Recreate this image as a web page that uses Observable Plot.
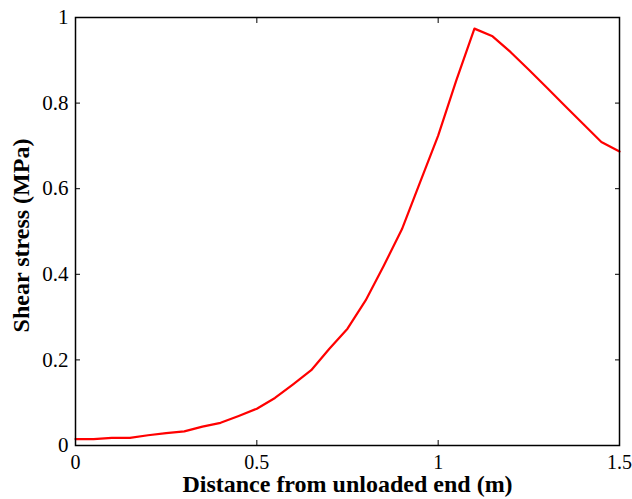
<!DOCTYPE html>
<html>
<head>
<meta charset="utf-8">
<script src="https://cdn.jsdelivr.net/npm/d3@7"></script>
<script src="https://cdn.jsdelivr.net/npm/@observablehq/plot@0.6"></script>
<style>
  html, body { margin: 0; padding: 0; background: #fff; }
  #chart svg { display: block; }
  #chart svg text { font-family: 'Liberation Serif', 'Times New Roman', serif !important; font-variant: normal !important; }
</style>
</head>
<body>
<div id="chart"></div>
<script>
const distance = [0, 0.05, 0.1, 0.15, 0.2, 0.25, 0.3, 0.35, 0.4, 0.45, 0.5, 0.55, 0.6, 0.65, 0.7, 0.75, 0.8, 0.85, 0.9, 0.95, 1.0, 1.05, 1.1, 1.15, 1.2, 1.25, 1.3, 1.35, 1.4, 1.45, 1.5];
const shearStress = [0.015, 0.015, 0.018, 0.018, 0.024, 0.029, 0.033, 0.044, 0.053, 0.069, 0.086, 0.111, 0.143, 0.176, 0.226, 0.273, 0.339, 0.42, 0.505, 0.615, 0.724, 0.853, 0.974, 0.956, 0.919, 0.878, 0.836, 0.793, 0.751, 0.709, 0.687];
const xTicks = [0, 0.5, 1, 1.5];
const yTicks = [0, 0.2, 0.4, 0.6, 0.8, 1];
const xLabel = "Distance from unloaded end (m)";
const yLabel = "Shear stress (MPa)";

const data = distance.map((d, i) => ({x: d, y: shearStress[i]}));
const font = "'Liberation Serif', 'Times New Roman', serif";
const fmt = d3.format("~g");

const chart = Plot.plot({
  width: 632,
  height: 499,
  marginLeft: 75,
  marginRight: 13,
  marginTop: 17,
  marginBottom: 54,
  style: {fontFamily: font, background: "#fff", color: "#000", overflow: "visible"},
  x: {domain: [0, 1.5]},
  y: {domain: [0, 1]},
  marks: [
    Plot.axisX({anchor: "bottom", ticks: xTicks, tickSize: -5, tickPadding: 14, tickFormat: fmt, fontSize: 20, fontFamily: font, label: null}),
    Plot.axisX({anchor: "top", ticks: xTicks, tickSize: -5, tickFormat: () => "", label: null}),
    Plot.axisY({anchor: "left", ticks: yTicks, tickSize: -5, tickPadding: 12, tickFormat: fmt, fontSize: 21, fontFamily: font, label: null}),
    Plot.axisY({anchor: "right", ticks: yTicks, tickSize: -5, tickFormat: () => "", label: null}),
    Plot.line(data, {x: "x", y: "y", stroke: "#ff0000", strokeWidth: 2.2}),
    Plot.frame({stroke: "#000", strokeWidth: 1.5}),
    Plot.text([xLabel], {frameAnchor: "bottom", textAnchor: "middle", dy: 46.5, fontSize: 24, fontWeight: "bold", fill: "#000"}),
    Plot.text([yLabel], {frameAnchor: "left", textAnchor: "middle", dx: -54, dy: 4, rotate: -90, fontSize: 24, fontWeight: "bold", fill: "#000"})
  ]
});
document.getElementById("chart").appendChild(chart);
</script>
</body>
</html>
